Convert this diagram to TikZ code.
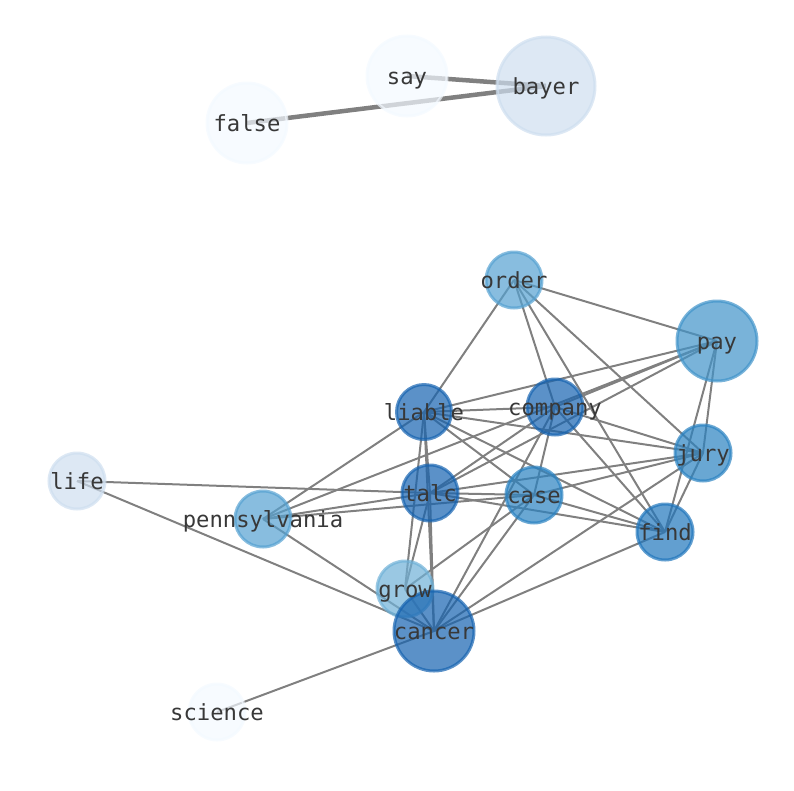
\documentclass[tikz,border=0pt]{standalone}
\usepackage{fontspec}
\setmonofont{DejaVu Sans Mono}
\usetikzlibrary{backgrounds}
\definecolor{bpale}{RGB}{243,249,255}
\definecolor{bmist}{RGB}{206,222,239}
\definecolor{bsky}{RGB}{111,177,215}
\definecolor{blight}{RGB}{85,161,209}
\definecolor{bmid}{RGB}{64,147,201}
\definecolor{bdeep}{RGB}{42,130,193}
\definecolor{bfind}{RGB}{32,118,188}
\definecolor{bdark}{RGB}{22,99,176}
\tikzstyle{vertex}=[circle,inner sep=0pt,line width=3pt,fill opacity=0.7,draw opacity=0.7]
\tikzstyle{word}=[font=\ttfamily\fontsize{22.2}{26}\selectfont,text=black!78,inner sep=0pt,text height=16.9pt,text depth=5.1pt,yshift=-2.5pt]
\tikzstyle{edge} = [draw,line width=2pt,gray]
\tikzstyle{heavy edge} = [draw,line width=4.5pt,gray]

\begin{document}
\begin{tikzpicture}[x=1pt,y=-1pt]

    \useasboundingbox (0,0) rectangle (794,790);

    \foreach \x/\y/\d/\c/\name in {407/76/80/bpale/say, 546/86/98/bmist/bayer, 247/123/80/bpale/false,
        514/280/56/blight/order, 717/341/80/bmid/pay, 424/412/55/bdark/liable, 555/407/56/bdark/company,
        703/453/56/bdeep/jury, 77/481/56/bmist/life, 430/493/56/bdark/talc, 534/495/56/bdeep/case,
        263/519/56/blight/pennsylvania, 665/532/56/bfind/find, 405/589/56/bsky/grow,
        434/631/80/bdark/cancer, 217/712/56/bpale/science}
        \node[vertex, minimum size=\d pt, draw=\c, fill=\c] (\name) at (\x,\y) {};

    \begin{pgfonlayer}{background}
    \foreach \source/ \dest in {say/bayer, false/bayer}
        \path[heavy edge] (\source.center) -- (\dest.center);

    \foreach \source/ \dest in {order/liable, order/pay, order/company, order/find, order/jury,
        pay/liable, pay/company, pay/pennsylvania, pay/talc, pay/jury, pay/find,
        liable/company, liable/jury, liable/find, liable/case, liable/talc, liable/grow,
        liable/cancer, liable/pennsylvania,
        company/jury, company/find, company/case, company/talc, company/cancer,
        talc/case, talc/find, talc/jury, talc/cancer, talc/grow, talc/pennsylvania, talc/life,
        case/find, case/jury, case/cancer, case/grow, case/pennsylvania,
        jury/find, jury/cancer, find/cancer, grow/cancer,
        cancer/life, cancer/science, cancer/pennsylvania}
        \path[edge] (\source.center) -- (\dest.center);
    \end{pgfonlayer}

    \foreach \name in {say, bayer, false, order, pay, liable, company, jury, life, talc, case,
        pennsylvania, find, grow, cancer, science}
        \node[word] (\name-txt) at (\name) {\name};

\end{tikzpicture}
\end{document}
